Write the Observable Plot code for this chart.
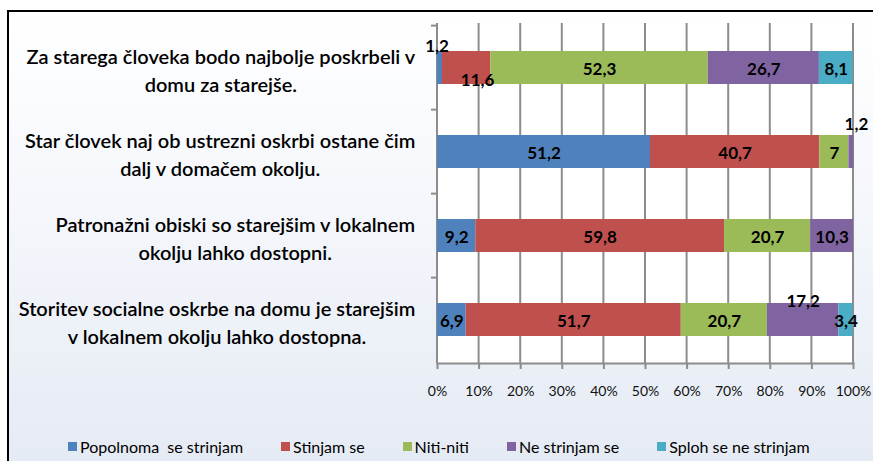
<!DOCTYPE html>
<html><head><meta charset="utf-8">
<script src="https://cdn.jsdelivr.net/npm/d3@7"></script>
<script src="https://cdn.jsdelivr.net/npm/@observablehq/plot@0.6"></script>
<style>
body{margin:0;background:#fff;}
#wrap{position:relative;width:873px;height:461px;overflow:hidden;font-family:Lato,sans-serif;}
#bg{position:absolute;left:7px;top:10px;width:900px;height:480px;border-left:2px solid #000;border-top:2px solid #000;
 background:linear-gradient(180deg,#ffffff 0%,#f6f8fc 35%,#e3e9f3 100%);}
#chart{position:absolute;left:0;top:0;}
#legend{position:absolute;top:437px;left:68px;display:flex;gap:38px;font-size:16px;color:#000;white-space:nowrap;}
#legend span.it{display:flex;align-items:center;}
#legend i{display:inline-block;width:9px;height:9px;margin-right:3px;}
</style></head>
<body>
<div id="wrap"><div id="bg"></div><div id="chart"></div><div id="legend"></div></div>
<script>
const categories = [
  "Za starega človeka bodo najbolje poskrbeli v\ndomu za starejše.",
  "Star človek naj ob ustrezni oskrbi ostane čim\ndalj v domačem okolju.",
  "Patronažni obiski so starejšim v lokalnem\nokolju lahko dostopni.",
  "Storitev socialne oskrbe na domu je starejšim\nv lokalnem okolju lahko dostopna."
];
const series = ["Popolnoma  se strinjam", "Stinjam se", "Niti-niti", "Ne strinjam se", "Sploh se ne strinjam"];
const colors = ["#4f81bd", "#c0504d", "#9bbb59", "#8064a2", "#4bacc6"];
const popolnoma = [1.2, 51.2, 9.2, 6.9];
const stinjam = [11.6, 40.7, 59.8, 51.7];
const nitiniti = [52.3, 7, 20.7, 20.7];
const neStrinjam = [26.7, 1.2, 10.3, 17.2];
const splohNe = [8.1, 0, 0, 3.4];
const xTickValues = [0, 10, 20, 30, 40, 50, 60, 70, 80, 90, 100];

const seriesValues = [popolnoma, stinjam, nitiniti, neStrinjam, splohNe];
const data = [];
categories.forEach((c, ci) => series.forEach((s, si) => {
  const v = seriesValues[si][ci];
  if (v > 0) data.push({category: c, ci, series: s, si, value: v});
}));
const fmt = v => String(v).replace(".", ",");

// labels moved off-centre in the original
const special = [
  {ci: 0, si: 0, dx: -3, dy: -21},
  {ci: 0, si: 1, dx: 11, dy: 13},
  {ci: 1, si: 3, dx: 5, dy: -27},
  {ci: 3, si: 3, dx: 0, dy: -18}
];
const isSpecial = d => special.some(s => s.ci === d.ci && s.si === d.si);

const W = 873, H = 425, mL = 437, mR = 20, mT = 24, mB = 62;
const padInner = 0.61, padOuter = 0.305;
const step = (H - mT - mB) / (categories.length - padInner + 2 * padOuter);

const ctx = document.createElement("canvas").getContext("2d");
const labelFont = {size: 20, weight: 600};
ctx.font = `${labelFont.weight} ${labelFont.size}px Lato`;
const labelRight = 415;

const labelMarks = categories.map(c => {
  const w = Math.max(...c.split("\n").map(l => ctx.measureText(l).width));
  const center = labelRight - w / 2;
  return Plot.text([c], {y: d => d, text: d => d, frameAnchor: "left", textAnchor: "middle",
    dx: center - mL, dy: 1.5, fontSize: labelFont.size, fontWeight: labelFont.weight, lineHeight: 1.4, fill: "#000"});
});

const valueOpts = {x: "value", y: "category", z: "series", fontSize: 17, fontWeight: "bold", fill: "#000"};

const chart = Plot.plot({
  width: W, height: H,
  marginLeft: mL, marginRight: mR, marginTop: mT, marginBottom: mB,
  style: {background: "transparent", fontFamily: "Lato, sans-serif", overflow: "visible"},
  x: {domain: [0, 100], axis: null},
  y: {domain: categories, paddingInner: padInner, paddingOuter: padOuter, axis: null},
  color: {domain: series, range: colors},
  marks: [
    Plot.frame({fill: "white", stroke: null}),
    // vertical gridlines as thin full-height rects at each tick value
    Plot.rectX(xTickValues, {x1: d => d, x2: d => d, insetLeft: -1, insetRight: -1, insetTop: -1, fill: "#8c8c8c"}),
    Plot.frame({anchor: "bottom", stroke: "#8c8c8c", strokeWidth: 2}),
    Plot.axisX({ticks: 10, tickFormat: d => d + "%", tickSize: 6, tickPadding: 17, fontSize: 14, label: null,
      stroke: "#8c8c8c", strokeWidth: 2, fill: "#111"}),
    Plot.axisY({tickSize: 6, tickFormat: () => "", label: null, stroke: "#8c8c8c", strokeWidth: 2, dy: -step / 2}),
    Plot.barX(data, Plot.stackX({x: "value", y: "category", fill: "series", order: null})),
    Plot.text(data, Plot.stackX({...valueOpts, order: null, dy: 2, text: d => isSpecial(d) ? "" : fmt(d.value)})),
    ...special.map(s => Plot.text(data, Plot.stackX({...valueOpts, order: null, dx: s.dx, dy: s.dy,
      text: d => (d.ci === s.ci && d.si === s.si) ? fmt(d.value) : ""}))),
    ...labelMarks
  ]
});
document.getElementById("chart").append(chart);

const legend = document.getElementById("legend");
series.forEach((s, i) => {
  const it = document.createElement("span");
  it.className = "it";
  it.innerHTML = `<i style="background:${colors[i]}"></i>${s.replace(/  /g, "&nbsp; ")}`;
  legend.append(it);
});
</script>
</body></html>
